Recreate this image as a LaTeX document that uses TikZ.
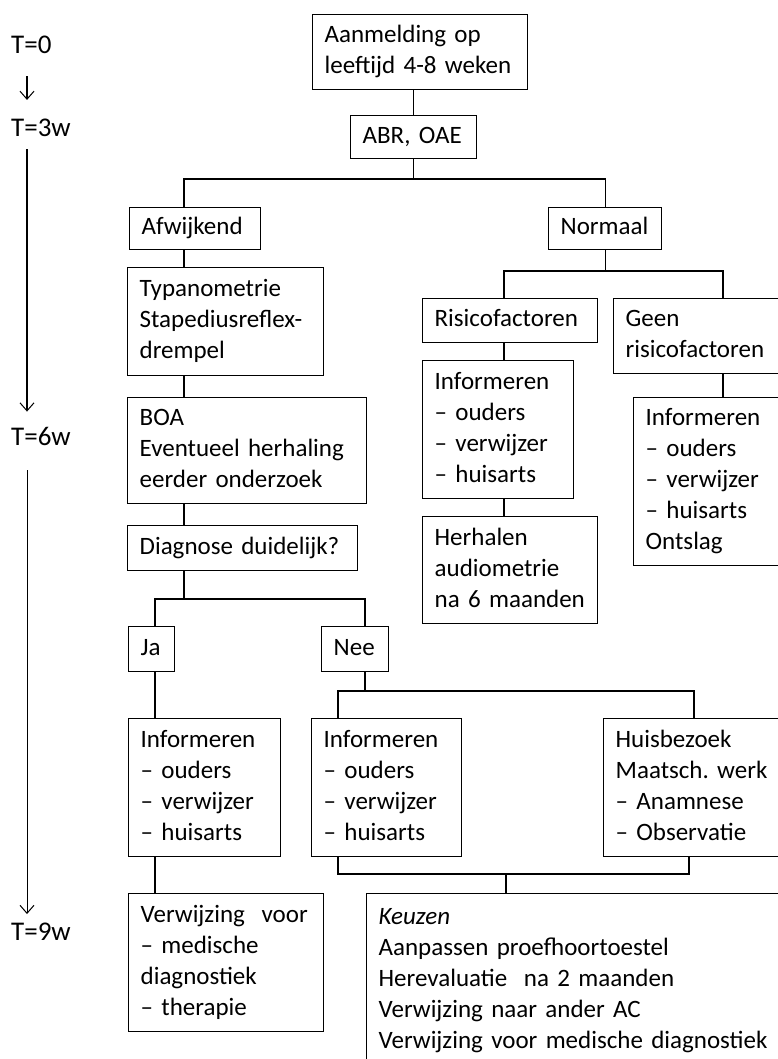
\documentclass[tikz,border=0pt]{standalone}
\usepackage{fontspec}
\setmainfont{Carlito}
\usetikzlibrary{arrows.meta}
\frenchspacing

\begin{document}
\begin{tikzpicture}[x=1pt,y=-1pt,
        every node/.style={font=\fontsize{25}{31}\selectfont},
        box/.style 2 args={rectangle,draw=black,line width=1.3pt,anchor=north west,
          inner xsep=12pt,inner ysep=0pt,align=left,text width=#1,minimum height=#2,
          execute at begin node=\strut,execute at end node=\strut},
        link/.style={line width=1.3pt},
        heavy/.style={line width=2pt},
        timeline/.style={-{Straight Barb[length=8pt,width=14pt,line width=1pt]}},
        stamp/.style={anchor=west,inner sep=0pt,font=\fontsize{27}{33}\selectfont}]
      \useasboundingbox (0,0) rectangle (778,1059);
      % time axis
      \node (t0) at (11,45) [stamp] {T=0};
      \node (t3) at (11,128) [stamp] {T=3w};
      \node (t6) at (11,436) [stamp] {T=6w};
      \node (t9) at (11,932) [stamp] {T=9w};
      \coordinate (taxis) at (27,0);
      \draw[timeline,line width=1.2pt,shorten <=22pt,shorten >=19pt] (t0.south -| taxis) -- (t3.north -| taxis);
      \draw[timeline,line width=2pt,shorten <=12pt,shorten >=15pt] (t3.south -| taxis) -- (t6.north -| taxis);
      \draw[timeline,line width=1pt,shorten <=25pt,shorten >=9pt] (t6.south -| taxis) -- (t9.north -| taxis);
      % boxes
      \node (aanm) at (312,14) [box={191pt}{75pt}] {Aanmelding op\\leeftijd 4-8 weken};
      \node (abr) at (350,115) [box={102pt}{43pt}] {ABR, OAE};
      \node (afw) at (129,207) [box={107pt}{42pt}] {Afwijkend};
      \node (norm) at (548,207) [box={89pt}{42pt}] {Normaal};
      \node (typ) at (127,267) [box={172pt}{108pt}] {Typanometrie\\Stapediusreflex-\\drempel};
      \node (risico) at (422,298) [box={151pt}{44pt}] {Risicofactoren};
      \node (geen) at (613,298) [box={144pt}{75pt}] {Geen\\risicofactoren};
      \node (infR) at (422,360) [box={127pt}{138pt}] {Informeren\\– ouders\\– verwijzer\\– huisarts};
      \node (herh) at (422,516) [box={151pt}{107pt}] {Herhalen\\audiometrie\\na 6 maanden};
      \node (infG) at (633,397) [box={124pt}{168pt}] {Informeren\\– ouders\\– verwijzer\\– huisarts\\Ontslag};
      \node (boa) at (127,397) [box={215pt}{106pt}] {BOA\\Eventueel herhaling\\eerder onderzoek};
      \node (diag) at (127,525) [box={206pt}{45pt}] {Diagnose duidelijk?};
      \node (ja) at (128,626) [box={22pt}{45pt}] {Ja};
      \node (nee) at (321,626) [box={43pt}{45pt}] {Nee};
      \node (infJa) at (128,718) [box={128pt}{138pt}] {Informeren\\– ouders\\– verwijzer\\– huisarts};
      \node (infNee) at (311,718) [box={126pt}{138pt}] {Informeren\\– ouders\\– verwijzer\\– huisarts};
      \node (huis) at (603,718) [box={154pt}{138pt}] {Huisbezoek\\Maatsch. werk\\– Anamnese\\– Observatie};
      \node (verw) at (128,893) [box={171pt}{138pt}] {Verwijzing\ \ voor\\– medische\\diagnostiek\\– therapie};
      \node (keuzen) at (366,893) [box={410pt}{174pt}] {\textit{Keuzen}\\Aanpassen proefhoortoestel\\Herevaluatie\ \ na 2 maanden\\Verwijzing naar ander AC\\Verwijzing voor medische diagnostiek};
      % junctions
      \coordinate (split1) at (413,179);
      \coordinate (lspine) at (184,0);
      \coordinate (split2) at (184,599);
      \coordinate (jax) at (155,0);
      \coordinate (neex) at (365,0);
      \coordinate (split3) at (365,691);
      \coordinate (infx) at (338,0);
      \coordinate (huisx) at (694,0);
      \coordinate (huisb) at (689,0);
      \coordinate (merge) at (506,874);
      \coordinate (split4) at (604,271);
      \coordinate (rx) at (504,0);
      \coordinate (gx) at (723,0);
      % connectors
      \draw[link] (aanm.south -| abr.north) -- (abr.north);
      \draw[link] (abr.south) -- (abr.south |- split1);
      \draw[link] (afw.north -| lspine) |- (split1) -| (norm.north);
      \draw[link] (afw.south -| lspine) -- (typ.north -| lspine);
      \draw[link] (typ.south -| lspine) -- (boa.north -| lspine);
      \draw[link] (boa.south -| lspine) -- (diag.north -| lspine);
      \draw[link] (diag.south -| lspine) -- (split2);
      \draw[link] (ja.north -| jax) |- (split2) -| (nee.north -| neex);
      \draw[heavy] (ja.south -| jax) -- (infJa.north -| jax);
      \draw[heavy] (infJa.south -| jax) -- (verw.north -| jax);
      \draw[link] (nee.south -| neex) -- (split3);
      \draw[link] (infNee.north -| infx) |- (split3) -| (huis.north -| huisx);
      \draw[heavy] (infNee.south -| infx) |- (merge) -| (huis.south -| huisb);
      \draw[heavy] (merge) -- (keuzen.north -| merge);
      \draw[link] (norm.south) -- (norm.south |- split4);
      \draw[link] (risico.north -| rx) |- (split4) -| (geen.north -| gx);
      \draw[link] (risico.south -| rx) -- (infR.north -| rx);
      \draw[link] (infR.south -| rx) -- (herh.north -| rx);
      \draw[link] (geen.south -| gx) -- (infG.north -| gx);
\end{tikzpicture}
\end{document}
